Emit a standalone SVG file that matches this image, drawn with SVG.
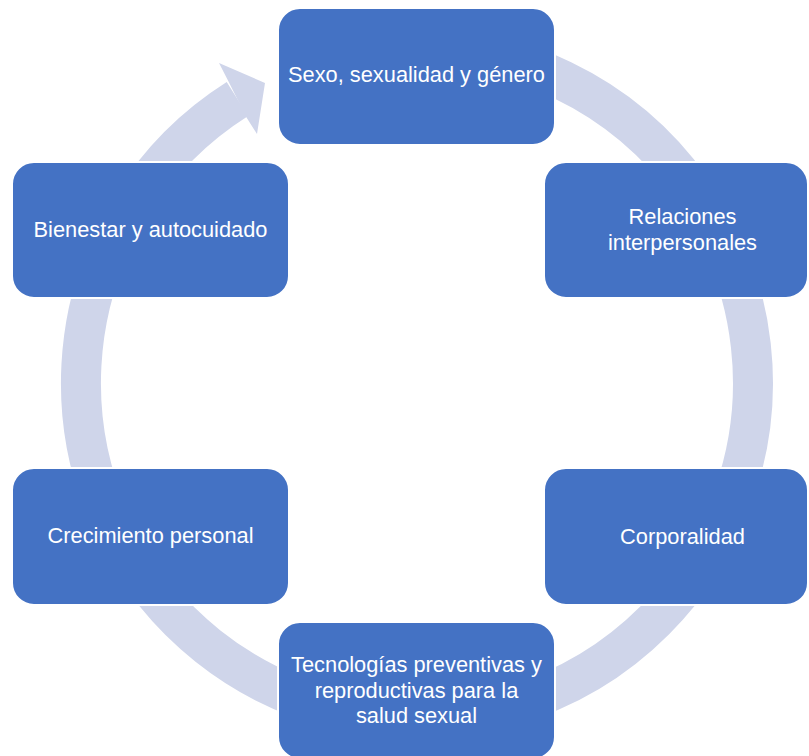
<svg xmlns="http://www.w3.org/2000/svg" width="809" height="756" viewBox="0 0 809 756">
<style>
.box{fill:#4472C4;stroke:#FFFFFF;stroke-width:2}
.lbl{fill:#FFFFFF;font-family:"Liberation Sans",Arial,sans-serif;font-size:21.8px;text-anchor:middle}
.ring{fill:none;stroke:#CFD5EA;stroke-width:40}
.head{fill:#CFD5EA}
</style>
<rect width="809" height="756" fill="#FFFFFF"/>
<g id="connectors">
<path class="ring" d="M 237.4 99 A 336 336 0 1 0 417 47"/>
<polygon class="head" points="228.5,81.5 219,63 265,83 257,134 246.5,117.5"/>
</g>
<g id="n1"><rect class="box" x="278" y="8" width="277" height="137" rx="22"/><text class="lbl" x="416.5" y="82">Sexo, sexualidad y género</text></g>
<g id="n2"><rect class="box" x="544" y="162" width="264" height="136" rx="22"/><text class="lbl" x="682.5" y="224">Relaciones</text><text class="lbl" x="682.5" y="249.5">interpersonales</text></g>
<g id="n3"><rect class="box" x="544" y="468" width="264" height="137" rx="22"/><text class="lbl" x="682.5" y="544">Corporalidad</text></g>
<g id="n4"><rect class="box" x="278" y="622" width="277" height="137" rx="22"/><text class="lbl" x="416.5" y="672">Tecnologías preventivas y</text><text class="lbl" x="416.5" y="697.5">reproductivas para la</text><text class="lbl" x="416.5" y="723">salud sexual</text></g>
<g id="n5"><rect class="box" x="12" y="468" width="277" height="137" rx="22"/><text class="lbl" x="150.5" y="543">Crecimiento personal</text></g>
<g id="n6"><rect class="box" x="12" y="162" width="277" height="136" rx="22"/><text class="lbl" x="150.5" y="237">Bienestar y autocuidado</text></g>
</svg>
